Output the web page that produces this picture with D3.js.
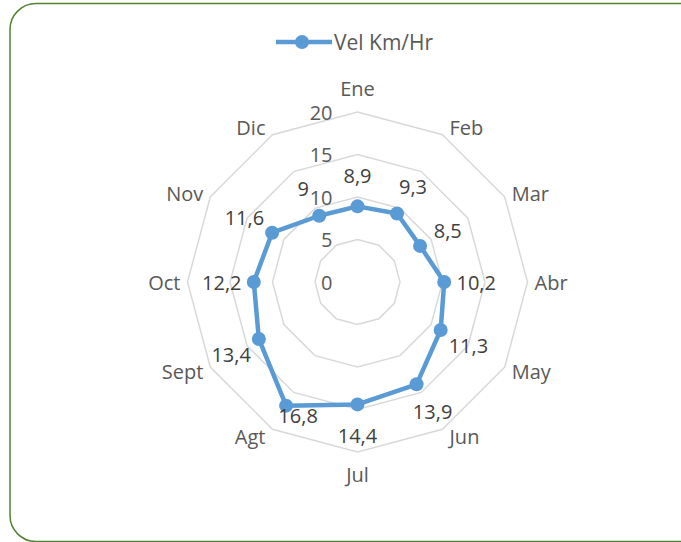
<!DOCTYPE html>
<html><head><meta charset="utf-8">
<script src="https://cdn.jsdelivr.net/npm/d3@7"></script>
<style>body{margin:0;background:#fff}svg{display:block}text{font-family:"Open Sans",sans-serif;fill:#595959}</style>
</head><body>
<svg id="c" width="681" height="542"></svg>
<script>
const categories = ["Ene","Feb","Mar","Abr","May","Jun","Jul","Agt","Sept","Oct","Nov","Dic"];
const values = [8.9, 9.3, 8.5, 10.2, 11.3, 13.9, 14.4, 16.8, 13.4, 12.2, 11.6, 9];
const valueLabels = ["8,9","9,3","8,5","10,2","11,3","13,9","14,4","16,8","13,4","12,2","11,6","9"];
const ticks = [0, 5, 10, 15, 20];
const seriesName = "Vel Km/Hr";

const svg = d3.select("#c");
const FS = 20;
svg.append("rect").attr("x", 10).attr("y", 3.5).attr("width", 700).attr("height", 538)
  .attr("rx", 26).attr("fill", "#fff").attr("stroke", "#548235").attr("stroke-width", 1.5);

const cx = 357.5, cy = 282, R = 170;
const r = d3.scaleLinear().domain([0, 20]).range([0, R]);
const ang = d3.scalePoint().domain(categories).range([0, 2 * Math.PI * (11 / 12)]);
const pt = (c, v) => [cx + r(v) * Math.sin(ang(c)), cy - r(v) * Math.cos(ang(c))];
const dir = c => [Math.sin(ang(c)), -Math.cos(ang(c))];

const g = svg.append("g");
// grid rings
ticks.filter(t => t > 0).forEach(t => {
  g.append("path")
    .attr("d", d3.line()(categories.map(c => pt(c, t))) + "Z")
    .attr("fill", "none").attr("stroke", "#d9d9d9").attr("stroke-width", 1.5);
});
// tick labels
g.selectAll(".tick").data(ticks).join("text")
  .attr("x", cx - 25).attr("y", t => cy - r(t))
  .attr("text-anchor", "end").attr("dominant-baseline", "central")
  .attr("font-size", FS).text(t => t);
// category labels, anchored outside the outer ring vertices
g.selectAll(".cat").data(categories).join("text")
  .each(function(c) {
    const v = pt(c, 20), d = dir(c);
    const sel = d3.select(this).attr("font-size", FS).attr("dominant-baseline", "central").text(c);
    if (Math.abs(d[0]) < 0.01) {
      sel.attr("text-anchor", "middle").attr("x", v[0]).attr("y", v[1] + (d[1] < 0 ? -24 : 22));
    } else {
      sel.attr("text-anchor", d[0] > 0 ? "start" : "end")
        .attr("x", v[0] + (d[0] > 0 ? 7 : -7)).attr("y", v[1] - 8 * Math.cos(ang(c)));
    }
  });
// series line
const pts = categories.map((c, i) => pt(c, values[i]));
g.append("path").attr("d", d3.line()(pts) + "Z")
  .attr("fill", "none").attr("stroke", "#5b9bd5").attr("stroke-width", 4.5).attr("stroke-linejoin", "round");
g.selectAll(".m").data(pts).join("circle")
  .attr("cx", d => d[0]).attr("cy", d => d[1]).attr("r", 7).attr("fill", "#5b9bd5");
// data labels: centred a fixed distance outward along the spoke (Agt nudged as in source)
const nudge = {Agt: [12, 10]};
g.selectAll(".dl").data(categories).join("text")
  .attr("font-size", FS).attr("text-anchor", "middle").attr("dominant-baseline", "central")
  .style("fill", "#404040").text((c, i) => valueLabels[i])
  .attr("x", (c, i) => pts[i][0] + (nudge[c] ? nudge[c][0] : 32 * dir(c)[0]))
  .attr("y", (c, i) => pts[i][1] + (nudge[c] ? nudge[c][1] : 31 * dir(c)[1]));
// legend
const lg = svg.append("g");
lg.append("line").attr("x1", 276).attr("x2", 332).attr("y1", 42).attr("y2", 42)
  .attr("stroke", "#5b9bd5").attr("stroke-width", 4.5);
lg.append("circle").attr("cx", 302).attr("cy", 42).attr("r", 7).attr("fill", "#5b9bd5");
lg.append("text").attr("x", 334).attr("y", 42).attr("dominant-baseline", "central")
  .attr("font-size", 21).text(seriesName);
</script>
</body></html>
